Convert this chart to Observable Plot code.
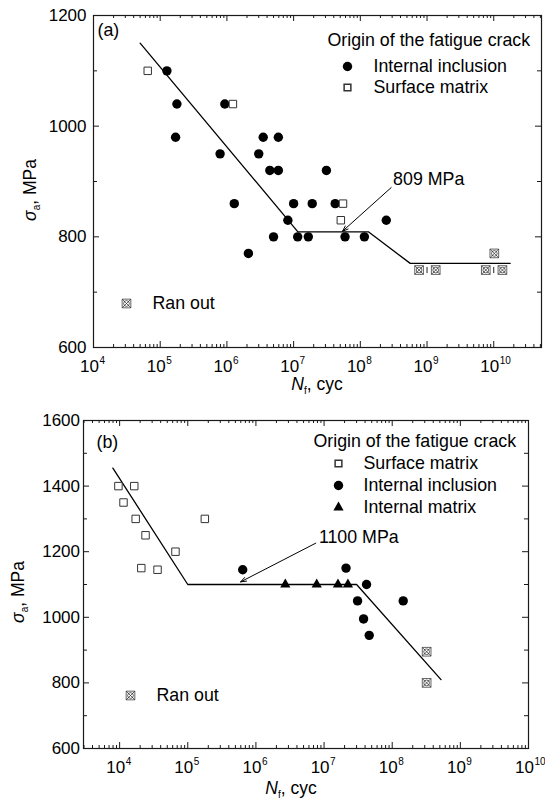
<!DOCTYPE html>
<html><head><meta charset="utf-8">
<script src="https://cdn.jsdelivr.net/npm/d3@7"></script>
<script src="https://cdn.jsdelivr.net/npm/@observablehq/plot@0.6"></script>
<style>
body{margin:0;background:#fff;font-family:"Liberation Sans",Arial,sans-serif}
#chart svg{display:block}
</style>
</head><body><div id="chart"></div>
<script>
// ---------- Panel (a) data ----------
const aInclusionN = [1.26e5, 1.78e5, 1.7e5, 9.3e5, 7.9e5, 3.0e6, 3.5e6, 5.9e6, 4.4e6, 5.9e6, 3.1e7, 1.29e6, 2.1e6, 5.0e6, 8.2e6, 1.0e7, 1.15e7, 1.66e7, 1.9e7, 4.2e7, 5.9e7, 1.15e8, 2.45e8];
const aInclusionS = [1100, 1040, 980, 1040, 950, 950, 980, 980, 920, 920, 920, 860, 770, 800, 830, 860, 800, 800, 860, 860, 800, 800, 830];
const aSurfaceN = [6.5e4, 1.23e6, 5.5e7, 5.1e7];
const aSurfaceS = [1100, 1040, 860, 830];
const aRunoutN = [7.6e8, 1.35e9, 7.6e9, 1.35e10, 1.02e10];
const aRunoutS = [740, 740, 740, 740, 770];
const aRunoutBarN = [1e9, 1e10];
const aRunoutBarS = [740, 740];
const aFitN = [5.0e4, 1.16e7, 1.32e8, 5.6e8, 1.76e10];
const aFitS = [1150, 809, 809, 752, 752];
const aNoteN = [3.1e8], aNoteS = [904], aNoteText = ["809 MPa"];
const aArrowN = [2.9e8, 5.4e7], aArrowS = [889, 810];
const aXTicks = [1e4, 1e5, 1e6, 1e7, 1e8, 1e9, 1e10];
const aYTicks = [600, 800, 1000, 1200];
const aYMinor = [700, 900, 1100];
const aXDomain = [1e4, 5.2e10], aYDomain = [600, 1200];

// ---------- Panel (b) data ----------
const bSurfaceN = [9.6e3, 1.64e4, 1.14e4, 1.72e4, 2.4e4, 2.08e4, 3.6e4, 6.6e4, 1.78e5];
const bSurfaceS = [1400, 1400, 1350, 1300, 1250, 1150, 1145, 1200, 1300];
const bInclusionN = [6.4e5, 2.1e7, 4.2e7, 3.1e7, 1.45e8, 3.8e7, 4.6e7];
const bInclusionS = [1145, 1150, 1100, 1050, 1050, 995, 945];
const bMatrixN = [2.7e6, 7.8e6, 1.6e7, 2.24e7];
const bMatrixS = [1100, 1100, 1100, 1100];
const bRunoutN = [3.2e8, 3.2e8];
const bRunoutS = [895, 800];
const bFitN = [7.96e3, 1.0e5, 3.0e7, 5.2e8];
const bFitS = [1455, 1100, 1100, 810];
const bNoteN = [8.4e6], bNoteS = [1243], bNoteText = ["1100 MPa"];
const bArrowN = [7.55e6, 5.96e5], bArrowS = [1226, 1108];
const bXTicks = [1e4, 1e5, 1e6, 1e7, 1e8, 1e9, 1e10];
const bYTicks = [600, 800, 1000, 1200, 1400, 1600];
const bYMinor = [700, 900, 1100, 1300, 1500];
const bXDomain = [2950, 1e10], bYDomain = [600, 1600];

const legendTitle = "Origin of the fatigue crack";
const INK = "#1a1a1a";
const FONT = "Liberation Sans, Arial, sans-serif";
const LFS = 17.8; // legend / note font size

const zip = (xs, ys) => xs.map((x, i) => ({x, y: ys[i]}));

const ranOutSymbol = {
  draw(ctx, size) {
    const s = Math.sqrt(size) / 2;
    ctx.moveTo(-s, -s); ctx.lineTo(s, -s); ctx.lineTo(s, s); ctx.lineTo(-s, s); ctx.closePath();
    ctx.moveTo(-s, -s); ctx.lineTo(s, s);
    ctx.moveTo(s, -s); ctx.lineTo(-s, s);
    const r = s * 0.66;
    ctx.moveTo(r, 0); ctx.arc(0, 0, r, 0, 2 * Math.PI);
  }
};
const barSymbol = {
  draw(ctx, size) { const s = Math.sqrt(size) / 2; ctx.moveTo(0, -s); ctx.lineTo(0, s); }
};

function logMinor([lo, hi]) {
  const out = [];
  for (let k = Math.floor(Math.log10(lo)); k <= Math.ceil(Math.log10(hi)); k++)
    for (let m = 2; m <= 9; m++) { const v = m * 10 ** k; if (v > lo && v < hi) out.push(v); }
  return out;
}

function axesMarks({xTicks, xMinor, yTicks, yMinor, innerW, innerH, yGap}) {
  return [
    Plot.tickX(xTicks, {x: d => d, insetTop: innerH - 6, stroke: INK}),
    Plot.tickX(xTicks, {x: d => d, insetBottom: innerH - 6, stroke: INK}),
    Plot.tickX(xMinor, {x: d => d, insetTop: innerH - 3, stroke: INK}),
    Plot.tickX(xMinor, {x: d => d, insetBottom: innerH - 3, stroke: INK}),
    Plot.tickY(yTicks, {y: d => d, insetRight: innerW - 6, stroke: INK}),
    Plot.tickY(yTicks, {y: d => d, insetLeft: innerW - 6, stroke: INK}),
    Plot.tickY(yMinor, {y: d => d, insetRight: innerW - 4, stroke: INK}),
    Plot.tickY(yMinor, {y: d => d, insetLeft: innerW - 4, stroke: INK}),
    Plot.frame({stroke: INK, strokeWidth: 1.2}),
    Plot.text(xTicks, {x: d => d, frameAnchor: "bottom", lineAnchor: "middle", text: () => "10", textAnchor: "end", dx: 5.5, dy: 19.5, fontSize: 17, fill: "black"}),
    Plot.text(xTicks, {x: d => d, frameAnchor: "bottom", lineAnchor: "middle", text: d => String(Math.round(Math.log10(d))), textAnchor: "start", dx: 6, dy: 13, fontSize: 10, fill: "black"}),
    Plot.text(yTicks, {y: d => d, frameAnchor: "left", lineAnchor: "middle", text: d => String(d), textAnchor: "end", dx: -yGap, fontSize: 17, fill: "black"})
  ];
}

function label(txt, dx, dy) {
  return Plot.text([txt], {frameAnchor: "top-left", lineAnchor: "middle", dx, dy, text: d => d, textAnchor: "start", fontSize: LFS, fill: "black"});
}

function addLabels(svg, xl, yl) {
  const s = d3.select(svg);
  const t = s.append("text").attr("x", xl.x).attr("y", xl.y).attr("text-anchor", "middle")
    .attr("font-size", 17.5).attr("font-family", FONT).attr("fill", "black");
  t.append("tspan").attr("font-style", "italic").text("N");
  t.append("tspan").attr("font-size", 10).attr("dy", 4).text("f");
  t.append("tspan").attr("dy", -4).text(", cyc");
  const u = s.append("text").attr("transform", `translate(${yl.x},${yl.y}) rotate(-90)`).attr("text-anchor", "middle")
    .attr("font-size", 17.5).attr("font-family", FONT).attr("fill", "black");
  u.append("tspan").attr("font-style", "italic").text("σ");
  u.append("tspan").attr("font-size", 10).attr("dy", 4).text("a");
  u.append("tspan").attr("dy", -4).text(", MPa");
}

const RO = {symbol: ranOutSymbol, r: 4.9, fill: "white", stroke: "#222", strokeWidth: 0.7};

// ---------- Panel (a) ----------
{
  const W = 545, H = 399, mt = 15, mb = 52, ml = 93, mr = 4;
  const innerW = W - ml - mr, innerH = H - mt - mb;
  const svg = Plot.plot({
    width: W, height: H, marginTop: mt, marginBottom: mb, marginLeft: ml, marginRight: mr,
    style: {fontFamily: FONT, fontSize: "17px", background: "white", color: "black"},
    x: {type: "log", domain: aXDomain, axis: null},
    y: {domain: aYDomain, axis: null},
    marks: [
      ...axesMarks({xTicks: aXTicks, xMinor: logMinor(aXDomain), yTicks: aYTicks, yMinor: aYMinor, innerW, innerH, yGap: 7}),
      Plot.line(zip(aFitN, aFitS), {x: "x", y: "y", stroke: "black", strokeWidth: 1.3}),
      Plot.dot(zip(aInclusionN, aInclusionS), {x: "x", y: "y", r: 4.7, fill: "black", stroke: "none"}),
      Plot.dot(zip(aSurfaceN, aSurfaceS), {x: "x", y: "y", symbol: "square", r: 4.2, fill: "white", stroke: "#333", strokeWidth: 1}),
      Plot.dot(zip(aRunoutN, aRunoutS), {x: "x", y: "y", ...RO}),
      Plot.dot(zip(aRunoutBarN, aRunoutBarS), {x: "x", y: "y", symbol: barSymbol, r: 3.5, stroke: "#222", strokeWidth: 1}),
      Plot.arrow([0], {x1: () => aArrowN[0], y1: () => aArrowS[0], x2: () => aArrowN[1], y2: () => aArrowS[1], stroke: "black", strokeWidth: 1, headLength: 9, headAngle: 40}),
      Plot.text(aNoteText, {x: (d, i) => aNoteN[i], y: (d, i) => aNoteS[i], text: d => d, textAnchor: "start", fontSize: LFS, fill: "black"}),
      // panel tag and legend
      label("(a)", 4, 15),
      label(legendTitle, 234, 25),
      Plot.dot([0], {frameAnchor: "top-left", dx: 254, dy: 51, r: 4.7, fill: "black", stroke: "none"}),
      label("Internal inclusion", 280, 51),
      Plot.dot([0], {frameAnchor: "top-left", dx: 254, dy: 72, symbol: "square", r: 3.8, fill: "white", stroke: "#333"}),
      label("Surface matrix", 280, 72),
      Plot.dot([0], {frameAnchor: "top-left", dx: 33, dy: 288, ...RO}),
      label("Ran out", 59, 288)
    ]
  });
  addLabels(svg, {x: 317, y: 390}, {x: 36, y: 190});
  document.getElementById("chart").append(svg);
}

// ---------- Panel (b) ----------
{
  const W = 545, H = 400, mt = 21, mb = 51, ml = 83, mr = 17;
  const innerW = W - ml - mr, innerH = H - mt - mb;
  const svg = Plot.plot({
    width: W, height: H, marginTop: mt, marginBottom: mb, marginLeft: ml, marginRight: mr,
    style: {fontFamily: FONT, fontSize: "17px", background: "white", color: "black", overflow: "visible"},
    x: {type: "log", domain: bXDomain, axis: null},
    y: {domain: bYDomain, axis: null},
    marks: [
      ...axesMarks({xTicks: bXTicks, xMinor: logMinor(bXDomain), yTicks: bYTicks, yMinor: bYMinor, innerW, innerH, yGap: 3.5}),
      Plot.line(zip(bFitN, bFitS), {x: "x", y: "y", stroke: "black", strokeWidth: 1.3}),
      Plot.dot(zip(bSurfaceN, bSurfaceS), {x: "x", y: "y", symbol: "square", r: 4.2, fill: "white", stroke: "#333", strokeWidth: 1}),
      Plot.dot(zip(bInclusionN, bInclusionS), {x: "x", y: "y", r: 4.7, fill: "black", stroke: "none"}),
      Plot.dot(zip(bMatrixN, bMatrixS), {x: "x", y: "y", symbol: "triangle", r: 3.8, fill: "black", stroke: "none"}),
      Plot.dot(zip(bRunoutN, bRunoutS), {x: "x", y: "y", ...RO}),
      Plot.arrow([0], {x1: () => bArrowN[0], y1: () => bArrowS[0], x2: () => bArrowN[1], y2: () => bArrowS[1], stroke: "black", strokeWidth: 1, headLength: 9, headAngle: 40}),
      Plot.text(bNoteText, {x: (d, i) => bNoteN[i], y: (d, i) => bNoteS[i], text: d => d, textAnchor: "start", fontSize: LFS, fill: "black"}),
      label("(b)", 13, 22),
      label(legendTitle, 230, 21),
      Plot.dot([0], {frameAnchor: "top-left", dx: 255, dy: 43, symbol: "square", r: 3.8, fill: "white", stroke: "#333"}),
      label("Surface matrix", 280, 43),
      Plot.dot([0], {frameAnchor: "top-left", dx: 255, dy: 65, r: 4.7, fill: "black", stroke: "none"}),
      label("Internal inclusion", 280, 65),
      Plot.dot([0], {frameAnchor: "top-left", dx: 255, dy: 87, symbol: "triangle", r: 3.8, fill: "black", stroke: "none"}),
      label("Internal matrix", 280, 87),
      Plot.dot([0], {frameAnchor: "top-left", dx: 47, dy: 275, ...RO}),
      label("Ran out", 73, 275)
    ]
  });
  addLabels(svg, {x: 291, y: 395}, {x: 24, y: 193});
  document.getElementById("chart").append(svg);
}
</script></body></html>
